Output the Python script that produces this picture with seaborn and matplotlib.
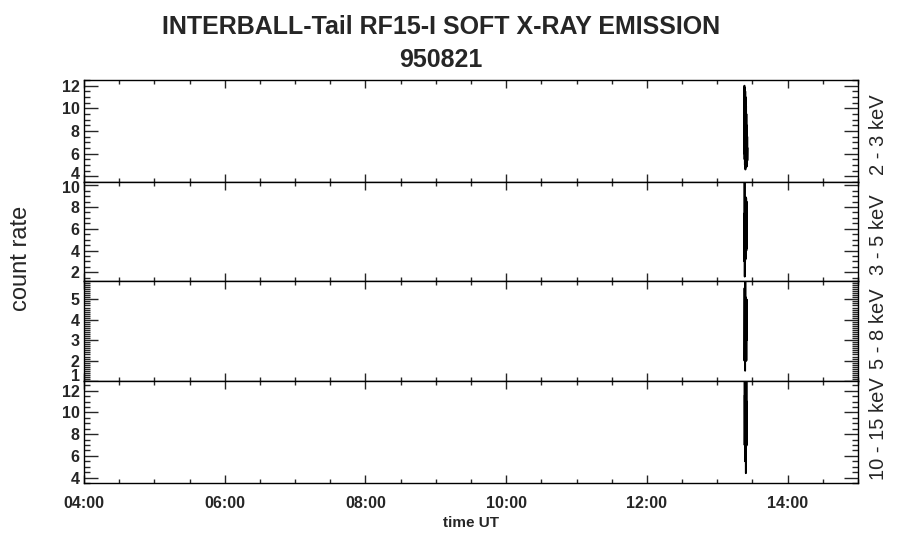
# INTERBALL-Tail RF15-I soft X-ray emission, 950821

import numpy as np
import matplotlib
matplotlib.use("Agg")
import matplotlib.pyplot as plt
import matplotlib.transforms as mtransforms
import seaborn as sns
from matplotlib.ticker import MultipleLocator, FixedLocator

sns.set_style("ticks")
plt.rcParams['font.family'] = ['Liberation Sans', 'DejaVu Sans']

# data (time in hours UT, count rate)
bands = ["2 - 3 keV", "3 - 5 keV", "5 - 8 keV", "10 - 15 keV"]

t_23 = [13.385, 13.386, 13.388, 13.390, 13.392, 13.394, 13.396, 13.398, 13.400, 13.402, 13.404, 13.406,
        13.408, 13.410, 13.412, 13.414, 13.416, 13.418, 13.420, 13.422, 13.424, 13.426, 13.428, 13.430]
v_23 = [6.0, 12.0, 5.5, 11.8, 5.0, 11.6, 4.8, 11.5, 4.6, 11.0, 4.8, 10.4,
        5.0, 10.2, 4.8, 9.5, 5.2, 8.5, 4.9, 8.0, 5.1, 7.5, 5.4, 6.5]

t_35 = [13.383, 13.386, 13.388, 13.390, 13.393, 13.396, 13.399, 13.402, 13.405, 13.408, 13.411, 13.414,
        13.417, 13.420, 13.423]
v_35 = [7.4, 3.0, 10.6, 1.6, 7.5, 3.0, 8.6, 3.2, 8.9, 4.0, 8.8, 4.0, 8.5, 4.2, 6.0]

t_58 = [13.384, 13.387, 13.390, 13.393, 13.396, 13.399, 13.402, 13.405, 13.408, 13.411, 13.414, 13.417, 13.420]
v_58 = [2.0, 5.55, 2.0, 5.5, 1.5, 6.2, 2.0, 5.1, 2.0, 5.0, 2.0, 5.0, 3.0]

t_1015 = [13.386, 13.388, 13.391, 13.394, 13.397, 13.400, 13.403, 13.406, 13.409, 13.412, 13.415, 13.418, 13.421]
v_1015 = [13.2, 7.0, 11.6, 5.5, 11.5, 7.0, 11.6, 4.4, 11.6, 6.9, 13.2, 7.0, 11.0]

xtick_pos = [4, 6, 8, 10, 12, 14]
xtick_labels = ["04:00", "06:00", "08:00", "10:00", "12:00", "14:00"]

series = [(t_23, v_23), (t_35, v_35), (t_58, v_58), (t_1015, v_1015)]
ylims = [(3.5, 12.5), (1.2, 10.3), (1.0, 5.9), (3.5, 12.9)]
ymajor = [2, 2, 1, 2]
yminor = [0.5, 0.5, 0.1, 0.5]

# panel edges in pixels (top, bottom)
W, H = 900, 548
edges = [(80, 182), (182, 281), (281, 381), (381, 483)]
label_y = [135, 235, 329, 429]
# pixel nudges for the lowest / highest y label of each panel (keeps them apart)
low_shift = [3, 0, 6, 0]
high_shift = [0, -2, 0, 0]

fig = plt.figure(figsize=(9, 5.48), dpi=100)
fig.patch.set_facecolor("white")


def nudge(label, px):
    off = mtransforms.ScaledTranslation(0, px / 100, fig.dpi_scale_trans)
    label.set_transform(label.get_transform() + off)


for i, (tt, vv) in enumerate(series):
    top, bot = edges[i]
    ax = fig.add_axes([84 / W, 1 - bot / H, (858 - 84) / W, (bot - top) / H])
    sns.lineplot(x=tt, y=vv, ax=ax, color="black", linewidth=1.3, estimator=None, sort=False)
    ax.set_xlim(4, 15)
    ax.set_ylim(*ylims[i])
    ax.xaxis.set_major_locator(FixedLocator(xtick_pos))
    ax.xaxis.set_minor_locator(MultipleLocator(0.5))
    ax.yaxis.set_major_locator(MultipleLocator(ymajor[i]))
    ax.yaxis.set_minor_locator(MultipleLocator(yminor[i]))
    ax.tick_params(axis="x", which="major", direction="in", length=5.5, width=1,
                   top=True, bottom=True)
    ax.tick_params(axis="x", which="minor", direction="in", length=3, width=1,
                   top=True, bottom=True)
    ax.tick_params(axis="y", which="major", direction="in", length=10, width=1,
                   left=True, right=True, labelsize=11.5, pad=3)
    ax.tick_params(axis="y", which="minor", direction="in", length=4, width=1,
                   left=True, right=True)
    for lab in ax.get_yticklabels():
        lab.set_fontweight("bold")
    ticks = [tk for tk in ax.yaxis.get_major_ticks()
             if ylims[i][0] - 1e-9 <= tk.get_loc() <= ylims[i][1] + 1e-9]
    nudge(ticks[0].label1, low_shift[i])
    nudge(ticks[-1].label1, high_shift[i])
    if i < 3:
        ax.set_xticklabels([])
    else:
        ax.set_xticklabels(xtick_labels, fontsize=11.5, fontweight="bold")
        ax.tick_params(axis="x", pad=9)
    for sp in ax.spines.values():
        sp.set_visible(True)
        sp.set_linewidth(1)
        sp.set_color("black")
    ax.set_xlabel("")
    ax.set_ylabel("")
    fig.text(879 / W, 1 - label_y[i] / H, bands[i], rotation=90, fontsize=14.5,
             ha="center", va="center")

fig.text(441 / W, 1 - 27 / H, "INTERBALL-Tail RF15-I SOFT X-RAY EMISSION",
         fontsize=18, fontweight="bold", ha="center", va="center")
fig.text(441 / W, 1 - 60 / H, "950821", fontsize=18, fontweight="bold",
         ha="center", va="center")
fig.text(21 / W, 1 - 258 / H, "count rate", rotation=90, fontsize=17,
         ha="center", va="center")
fig.text(471 / W, 1 - 523 / H, "time UT", fontsize=11, fontweight="bold",
         ha="center", va="center")

fig.savefig("out.png", dpi=100, facecolor="white")
